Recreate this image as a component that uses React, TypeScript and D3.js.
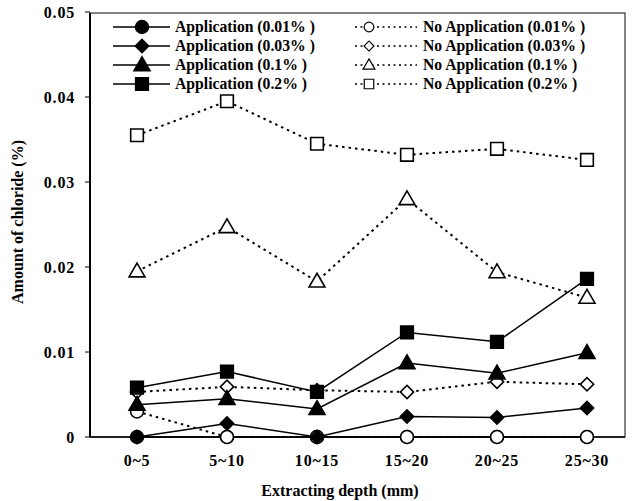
import React from "react";
import * as d3 from "d3";

const depths = ["0~5", "5~10", "10~15", "15~20", "20~25", "25~30"];
const yTicks = [0, 0.01, 0.02, 0.03, 0.04, 0.05];

// values (amount of chloride, %)
const app001 = [0, 0, 0, 0, 0, 0];
const app003 = [0, 0.0016, 0, 0.0024, 0.0023, 0.0034];
const app01 = [0.0038, 0.0045, 0.0033, 0.0087, 0.0075, 0.0099];
const app02 = [0.0058, 0.0077, 0.0053, 0.0123, 0.0112, 0.0186];
const noApp001 = [0.003, 0, 0, 0, 0, 0];
const noApp003 = [0.0053, 0.0059, 0.0055, 0.0053, 0.0065, 0.0062];
const noApp01 = [0.0195, 0.0247, 0.0183, 0.028, 0.0194, 0.0164];
const noApp02 = [0.0355, 0.0395, 0.0345, 0.0332, 0.0339, 0.0326];

const series = [
  { name: "Application (0.01% )", values: app001, shape: "circle", filled: true },
  { name: "No Application (0.01% )", values: noApp001, shape: "circle", filled: false },
  { name: "No Application (0.03% )", values: noApp003, shape: "diamond", filled: false },
  { name: "No Application (0.1% )", values: noApp01, shape: "triangle", filled: false },
  { name: "No Application (0.2% )", values: noApp02, shape: "square", filled: false },
  { name: "Application (0.03% )", values: app003, shape: "diamond", filled: true },
  { name: "Application (0.1% )", values: app01, shape: "triangle", filled: true },
  { name: "Application (0.2% )", values: app02, shape: "square", filled: true },
];

const legendLeft = ["Application (0.01% )", "Application (0.03% )", "Application (0.1% )", "Application (0.2% )"];
const legendRight = ["No Application (0.01% )", "No Application (0.03% )", "No Application (0.1% )", "No Application (0.2% )"];

const W = 635, H = 501;
const plot = { left: 90, right: 625, top: 13, bottom: 437 };
const font = "'Liberation Serif', 'Times New Roman', serif";

const x = d3.scalePoint<string>().domain(depths).range([137, 587]);
const y = d3.scaleLinear().domain([0, 0.05]).range([plot.bottom, 12]);

const symbolPath = (shape: string) => {
  if (shape === "circle") return d3.symbol(d3.symbolCircle, 130)()!;
  if (shape === "square") return d3.symbol(d3.symbolSquare, 160)()!;
  if (shape === "triangle") return d3.symbol(d3.symbolTriangle, 110)()!;
  return d3.symbol(d3.symbolSquare, 88)()!;
};

function Marker({ shape, filled, cx, cy }: { shape: string; filled: boolean; cx: number; cy: number }) {
  const rot = shape === "diamond" ? " rotate(45)" : "";
  const dy = shape === "triangle" ? 1 : 0;
  return (
    <path
      d={symbolPath(shape)}
      transform={`translate(${cx},${cy + dy})${rot}`}
      fill={filled ? "#000" : "#fff"}
      stroke="#000"
      strokeWidth={1.6}
    />
  );
}

export default function App() {
  const line = d3.line<number>().x((_, i) => x(depths[i])!).y((d) => y(d));
  const find = (n: string) => series.find((s) => s.name === n)!;

  return (
    <svg width={W} height={H} style={{ position: "absolute", left: 0, top: 0, background: "#fff" }}>
      {/* frame */}
      <rect x={plot.left} y={plot.top} width={plot.right - plot.left} height={plot.bottom - plot.top}
        fill="none" stroke="#333" strokeWidth={1.2} />
      <line x1={plot.left} x2={plot.left} y1={plot.top} y2={plot.bottom} stroke="#000" strokeWidth={2} />
      <line x1={plot.left} x2={plot.right} y1={plot.bottom} y2={plot.bottom} stroke="#000" strokeWidth={1.6} />

      {/* y ticks */}
      {yTicks.map((t) => (
        <g key={t}>
          <line x1={plot.left - 5} x2={plot.left} y1={y(t)} y2={y(t)} stroke="#000" strokeWidth={1} />
          <text x={75} y={y(t)} dy="0.35em" textAnchor="end" fontFamily={font} fontWeight="bold" fontSize={16}
            letterSpacing={0.8}>
            {t === 0 ? "0" : t.toFixed(2)}
          </text>
        </g>
      ))}

      {/* x labels */}
      {depths.map((d) => (
        <text key={d} x={x(d)} y={466} textAnchor="middle" fontFamily={font} fontWeight="bold" fontSize={16}
          letterSpacing={0.8}>
          {d}
        </text>
      ))}

      <text x={340} y={496} textAnchor="middle" fontFamily={font} fontWeight="bold" fontSize={16}>
        Extracting depth (mm)
      </text>
      <text transform="translate(23,222) rotate(-90)" textAnchor="middle" fontFamily={font} fontWeight="bold" fontSize={16}>
        Amount of chloride (%)
      </text>

      {/* series */}
      {series.map((s) => (
        <g key={s.name}>
          <path d={line(s.values)!} fill="none" stroke="#000"
            strokeWidth={s.filled ? 1.5 : 2}
            strokeDasharray={s.filled ? undefined : "2.5,4"} />
          {s.values.map((v, i) => (
            <Marker key={i} shape={s.shape} filled={s.filled} cx={x(depths[i])!} cy={y(v)} />
          ))}
        </g>
      ))}

      {/* legend */}
      {legendLeft.map((n, i) => {
        const s = find(n);
        const ly = 27 + i * 19;
        return (
          <g key={n}>
            <line x1={113} x2={170} y1={ly} y2={ly} stroke="#000" strokeWidth={1.5} />
            <Marker shape={s.shape} filled={s.filled} cx={142} cy={ly} />
            <text x={175} y={ly} dy="0.35em" fontFamily={font} fontWeight="bold" fontSize={15.7}>{n}</text>
          </g>
        );
      })}
      {legendRight.map((n, i) => {
        const s = find(n);
        const ly = 27 + i * 19;
        return (
          <g key={n}>
            <line x1={355} x2={417} y1={ly} y2={ly} stroke="#000" strokeWidth={1.5} strokeDasharray="2,3.5" />
            <g transform={`translate(${369},${ly}) scale(0.75)`}>
              <Marker shape={s.shape} filled={s.filled} cx={0} cy={0} />
            </g>
            <text x={423} y={ly} dy="0.35em" fontFamily={font} fontWeight="bold" fontSize={15.7}>{n}</text>
          </g>
        );
      })}
    </svg>
  );
}
